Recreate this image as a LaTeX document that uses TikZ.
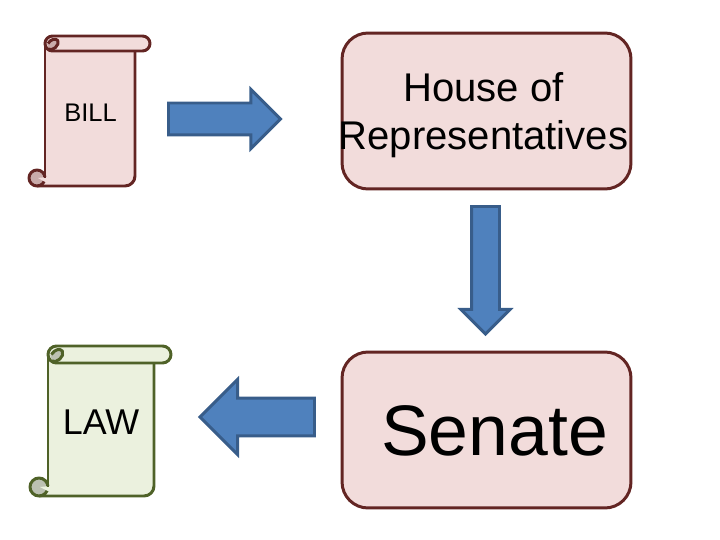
\documentclass[tikz,border=0pt]{standalone}
\usepackage{fontspec}
\setmainfont{Liberation Sans}
\usetikzlibrary{shapes.arrows, positioning}

\definecolor{redfill}{HTML}{F2DCDB}
\definecolor{redline}{HTML}{632523}
\definecolor{redcurl}{HTML}{C9ABAA}
\definecolor{greenfill}{HTML}{EBF1DE}
\definecolor{greenline}{HTML}{4F6228}
\definecolor{greencurl}{HTML}{BCC1B2}
\definecolor{arrowfill}{HTML}{4F81BD}
\definecolor{arrowline}{HTML}{385D8A}

% scroll: left, top, roll bottom, body right, roll right, bottom, curl radius, colour prefix
\newcommand{\scrollshape}[8]{
    \fill[#8fill, rounded corners=10*0.02cm] (#1,#3-6) -- (#1,#6) -- (#4,#6) -- (#4,#3-2);
    \fill[#8fill] (#1-2,#6-#7) rectangle (#1+12,#6);
    \draw[scrollline, draw=#8line, fill=#8curl] (#1-#7,#6-#7) circle [radius=#7];
    % notch of the bottom curl
    \fill[#8fill] (#1-#7+1,#6-#7) -- (#1+2,#6-#7-1) -- (#1+2,#6-#7+5) -- cycle;
    \draw[scrollline, draw=#8line] (#1,#3-6) -- (#1,#6-#7);
    \draw[scrollline, draw=#8line, rounded corners=10*0.02cm] (#1-#7,#6) -- (#4,#6) -- (#4,#3-2);
    \draw[scrollline, draw=#8line, fill=#8fill, rounded corners=(#3-#2)*0.01cm]
        (#1,#2) rectangle (#5,#3);
    % top curl
    \fill[#8curl] (#1+0.5*#3-0.5*#2,0.55*#3+0.45*#2) circle [radius=0.36*#3-0.36*#2];
    \draw[scrollline, draw=#8line] (#1+0.2*#3-0.2*#2,#3-2)
        .. controls (#1+0.5*#3-0.5*#2,#3+1) and (#1+1*#3-1*#2,0.6*#3+0.4*#2) .. (#1+0.85*#3-0.85*#2,0.3*#3+0.7*#2)
        .. controls (#1+0.7*#3-0.7*#2,#2+2) and (#1+0.4*#3-0.4*#2,0.8*#2+0.2*#3) .. (#1+0.2*#3-0.2*#2,0.5*#2+0.5*#3);
}

\begin{document}
\begin{tikzpicture}[
    x=0.02cm, y=-0.02cm,
    every node/.style={text=black, align=center, inner sep=0pt},
    scrollline/.style={line width=1.7pt, line join=round},
    roundbox/.style={draw=redline, fill=redfill, line width=1.7pt, rounded corners=0.52cm,
        minimum width=5.78cm, minimum height=3.12cm, outer sep=0pt},
    blockarrow/.style={single arrow, draw=arrowline, fill=arrowfill, line width=1.7pt,
        inner xsep=0pt, outer sep=0pt, anchor=tail}
]
\useasboundingbox (0,0) rectangle (720,540);

% ============ SCROLLS ============
\scrollshape{45}{36}{51}{135}{150}{186}{8}{red}
\node[font=\fontsize{14.5}{17}\selectfont] (bill) at (90.5,113) {BILL};

\scrollshape{48}{346}{363}{154}{171}{496}{9}{green}
\node[font=\fontsize{20.4}{24}\selectfont] (law) at (101,422) {LAW};

% ============ CHAMBERS ============
\node[roundbox] (house) at (486.5,111) {};
\node[font=\fontsize{22.8}{27}\selectfont] (housetext) at (483.5,115) {House of\\Representatives};
\node[roundbox] (senate) at (486.5,430) {};
\node[font=\fontsize{40.7}{48}\selectfont] (senatetext) at (494.5,431) {Senate};

% ============ ARROWS ============
\node[blockarrow, minimum height=2.24cm, inner ysep=0.29cm, single arrow head extend=0.27cm] (billarrow) at (168.5,119) {};
\node[blockarrow, rotate=-90, minimum height=2.55cm, inner ysep=0.25cm, single arrow head extend=0.21cm] (housearrow) at (485.5,206.5) {};
\node[blockarrow, rotate=180, minimum height=2.29cm, inner ysep=0.35cm, single arrow head extend=0.37cm] (senatearrow) at (314.5,417) {};

\end{tikzpicture}
\end{document}
